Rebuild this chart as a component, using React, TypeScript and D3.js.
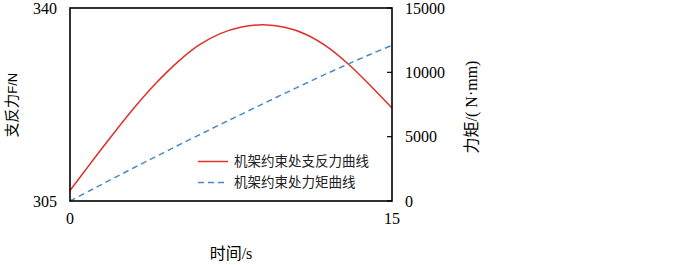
import React from "react";
import * as d3 from "d3";

const times = [0, 1, 2, 3, 4, 5, 6, 7, 8, 9, 10, 11, 12, 13, 14, 15];
const forceValues = [306.9, 312.05, 317.1, 321.95, 326.35, 330.15, 333.25, 335.35, 336.55, 336.95, 336.5, 335.2, 332.9, 329.7, 325.9, 321.85];
const momentValues = [0, 875, 1745, 2605, 3455, 4295, 5125, 5945, 6755, 7565, 8365, 9155, 9925, 10675, 11405, 12100];
const xTicks = [0, 15];
const leftTicks = [305, 340];
const rightTicks = [0, 5000, 10000, 15000];
const legendLabels = ["机架约束处支反力曲线", "机架约束处力矩曲线"];

const W = 700, H = 265;
const plot = { left: 70, right: 392, top: 8, bottom: 201 };
const serif = "'Liberation Serif', 'Times New Roman', 'Noto Sans CJK SC', serif";
const cjk = "'Noto Sans CJK SC', 'Liberation Serif', sans-serif";

export default function App() {
  const x = d3.scaleLinear().domain([0, 15]).range([plot.left, plot.right]);
  const yL = d3.scaleLinear().domain([305, 340]).range([plot.bottom, plot.top]);
  const yR = d3.scaleLinear().domain([0, 15000]).range([plot.bottom, plot.top]);

  const redLine = d3.line<number>()
    .x((_, i) => x(times[i]))
    .y((d) => yL(d))
    .curve(d3.curveCatmullRom.alpha(0.5))(forceValues) || "";
  const blueLine = d3.line<number>()
    .x((_, i) => x(times[i]))
    .y((d) => yR(d))
    .curve(d3.curveCatmullRom.alpha(0.5))(momentValues) || "";

  const red = "#e0302a";
  const blue = "#4a88cc";

  return (
    <svg width={W} height={H} style={{ position: "absolute", left: 0, top: 0, background: "#fff" }}>
      <path d={redLine} fill="none" stroke={red} strokeWidth={1.5} />
      <path d={blueLine} fill="none" stroke={blue} strokeWidth={1.5} strokeDasharray="6,4" />
      {/* frame */}
      <rect x={plot.left} y={plot.top} width={plot.right - plot.left} height={plot.bottom - plot.top}
        fill="none" stroke="#000" strokeWidth={1.6} />
      {/* right inner ticks */}
      {rightTicks.map((t) => (
        <line key={"rt" + t} x1={plot.right - 5} x2={plot.right} y1={yR(t)} y2={yR(t)} stroke="#000" strokeWidth={1.2} />
      ))}
      {/* left tick labels */}
      {leftTicks.map((t) => (
        <text key={"lt" + t} x={57} y={yL(t)} dy="0.35em" textAnchor="end" fontFamily={serif} fontSize={16} fill="#000">{t}</text>
      ))}
      {rightTicks.map((t) => (
        <text key={"rl" + t} x={405} y={yR(t)} dy="0.35em" textAnchor="start" fontFamily={serif} fontSize={16} fill="#000">{t}</text>
      ))}
      {xTicks.map((t) => (
        <text key={"xt" + t} x={x(t)} y={224} textAnchor="middle" fontFamily={serif} fontSize={16} fill="#000">{t}</text>
      ))}
      {/* axis titles */}
      <text x={231} y={259} textAnchor="middle" fontSize={16} fill="#000">
        <tspan fontFamily={cjk}>时间</tspan><tspan fontFamily={serif}>/s</tspan>
      </text>
      <text transform="translate(17,105) rotate(-90)" textAnchor="middle" fontSize={14.5} fill="#000">
        <tspan fontFamily={cjk}>支反力</tspan><tspan fontFamily="'Liberation Sans', Arial, sans-serif" fontSize={13}>F/N</tspan>
      </text>
      <text transform="translate(477,107) rotate(-90)" textAnchor="middle" fontSize={16} fill="#000">
        <tspan fontFamily={cjk}>力矩</tspan><tspan fontFamily={serif}>/( N·mm)</tspan>
      </text>
      {/* legend */}
      <line x1={198} x2={228} y1={161.5} y2={161.5} stroke={red} strokeWidth={1.5} />
      <line x1={198} x2={228} y1={182.5} y2={182.5} stroke={blue} strokeWidth={1.5} strokeDasharray="6,4" />
      <text x={234} y={161.5} dy="0.35em" fontFamily={cjk} fontSize={13.5} fill="#222">{legendLabels[0]}</text>
      <text x={234} y={182.5} dy="0.35em" fontFamily={cjk} fontSize={13.5} fill="#222">{legendLabels[1]}</text>
    </svg>
  );
}
